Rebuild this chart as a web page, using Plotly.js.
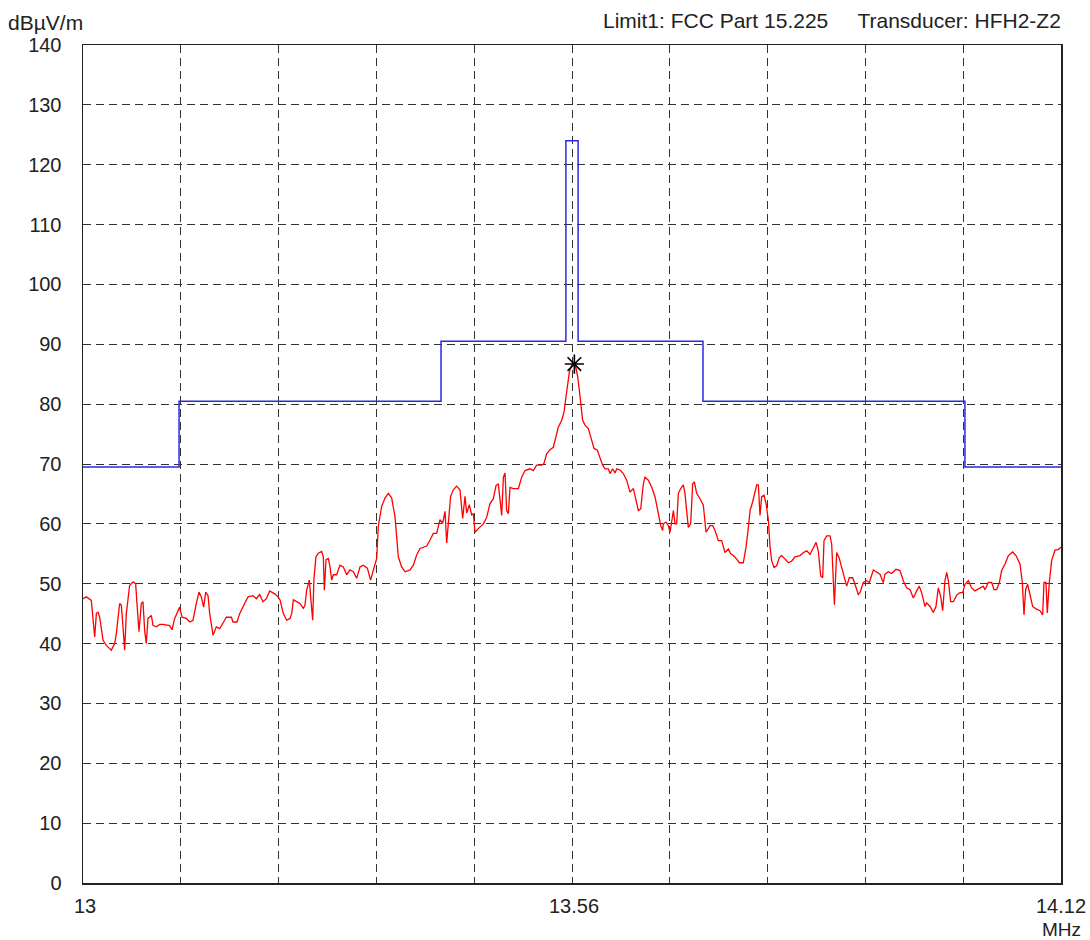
<!DOCTYPE html>
<html>
<head>
<meta charset="utf-8">
<script src="https://cdn.plot.ly/plotly-3.0.1.min.js"></script>
<style>html,body{margin:0;padding:0;background:#fff}#chart{width:1090px;height:940px}</style>
</head>
<body>
<div id="chart"></div>
<script>
// Measured level (red trace)
const freqMHz = [
13.0000,13.0038,13.0095,13.0115,13.0134,13.0153,13.0172,13.0191,13.0210,13.0229,13.0267,13.0324,13.0363,13.0382,13.0420,13.0439,13.0458,13.0477,13.0496,13.0515,13.0534,13.0573,13.0603,13.0618,13.0641,13.0668,13.0687,13.0706,13.0725,13.0744,13.0783,13.0802,13.0840,13.0878,13.0916,13.0993,13.1019,13.1050,13.1107,13.1134,13.1183,13.1222,13.1260,13.1298,13.1328,13.1355,13.1382,13.1405,13.1432,13.1451,13.1489,13.1527,13.1565,13.1622,13.1641,13.1699,13.1718,13.1764,13.1794,13.1851,13.1890,13.1947,13.1985,13.2023,13.2061,13.2100,13.2138,13.2195,13.2233,
13.2256,13.2294,13.2332,13.2370,13.2390,13.2409,13.2447,13.2485,13.2523,13.2542,13.2561,13.2592,13.2607,13.2630,13.2645,13.2668,13.2695,13.2733,13.2752,13.2764,13.2783,13.2810,13.2829,13.2848,13.2867,13.2905,13.2943,13.2981,13.3020,13.3058,13.3096,13.3134,13.3172,13.3210,13.3256,13.3294,13.3325,13.3363,13.3382,13.3420,13.3458,13.3497,13.3535,13.3573,13.3611,13.3649,13.3688,13.3745,13.3783,13.3821,13.3859,13.3897,13.3936,13.3974,13.4012,13.4050,13.4088,13.4119,13.4146,13.4165,13.4184,13.4210,13.4241,13.4279,13.4317,13.4348,13.4375,13.4394,13.4424,13.4451,
13.4470,13.4489,13.4527,13.4585,13.4623,13.4661,13.4699,13.4730,13.4756,13.4776,13.4795,13.4814,13.4833,13.4852,13.4871,13.4890,13.4928,13.4986,13.5024,13.5062,13.5119,13.5157,13.5195,13.5253,13.5279,13.5310,13.5348,13.5386,13.5417,13.5444,13.5482,13.5509,13.5531,13.5551,13.5570,13.5596,13.5623,13.5646,13.5665,13.5684,13.5703,13.5722,13.5749,13.5787,13.5825,13.5852,13.5890,13.5921,13.5951,13.5978,13.6016,13.6035,13.6066,13.6093,13.6112,13.6150,13.6188,13.6226,13.6264,13.6303,13.6341,13.6360,13.6387,13.6417,13.6436,13.6474,13.6513,13.6551,13.6589,13.6616,13.6638,
13.6646,13.6677,13.6703,13.6723,13.6742,13.6761,13.6780,13.6799,13.6818,13.6845,13.6875,13.6894,13.6913,13.6932,13.6959,13.6982,13.7001,13.7028,13.7066,13.7104,13.7135,13.7181,13.7211,13.7238,13.7276,13.7314,13.7352,13.7391,13.7417,13.7448,13.7486,13.7517,13.7562,13.7593,13.7620,13.7639,13.7669,13.7696,13.7715,13.7734,13.7753,13.7772,13.7799,13.7822,13.7849,13.7868,13.7887,13.7914,13.7944,13.7975,13.8001,13.8040,13.8078,13.8116,13.8154,13.8211,13.8250,13.8288,13.8326,13.8364,13.8395,13.8421,13.8448,13.8471,13.8486,13.8517,13.8555,13.8574,13.8593,13.8605,13.8631,13.8658,13.8689,13.8715,13.8746,13.8776,13.8814,13.8841,13.8879,
13.8898,13.8936,13.8974,13.9005,13.9051,13.9089,13.9127,13.9165,13.9184,13.9222,13.9261,13.9310,13.9356,13.9394,13.9432,13.9471,13.9509,13.9547,13.9577,13.9604,13.9642,13.9661,13.9700,13.9738,13.9768,13.9795,13.9822,13.9845,13.9871,13.9891,13.9910,13.9936,13.9967,14.0005,14.0043,14.0074,14.0100,14.0139,14.0177,14.0215,14.0272,14.0310,14.0329,14.0368,14.0406,14.0433,14.0463,14.0494,14.0520,14.0559,14.0597,14.0646,14.0685,14.0730,14.0757,14.0776,14.0795,14.0818,14.0845,14.0875,14.0914,14.0959,14.0990,14.1005,14.1028,14.1043,14.1066,14.1093,14.1131,14.1169,14.1200
];
const levelDb = [
47.5,47.8,47.2,43.3,41.1,45.0,45.3,44.4,42.8,40.6,39.7,38.9,40.0,41.7,46.7,46.4,42.8,38.9,45.0,47.2,49.7,50.3,50.0,46.7,42.0,46.7,47.0,42.2,40.0,44.2,44.7,43.0,42.8,43.2,43.2,43.0,42.3,44.2,46.1,44.4,44.2,43.6,43.9,46.7,48.6,47.8,46.1,48.6,48.0,45.0,41.4,42.8,42.5,43.9,44.4,44.4,43.6,43.6,45.0,46.7,47.8,48.0,47.5,48.2,47.0,47.5,48.8,48.3,47.8,
47.3,45.0,43.9,44.2,45.0,47.3,47.0,46.7,45.9,46.4,48.9,50.6,47.8,43.9,50.9,54.5,55.1,55.4,54.5,48.9,54.0,54.2,52.8,50.6,51.5,51.5,53.1,52.8,51.5,52.3,52.0,50.9,52.8,53.1,52.6,50.6,52.3,54.2,59.6,62.9,64.3,65.1,64.3,61.2,54.5,52.8,52.0,52.3,53.1,54.8,55.9,56.1,56.3,57.3,58.4,58.4,60.7,60.1,62.1,56.8,60.7,64.6,65.7,66.3,65.7,60.9,64.6,61.8,63.2,61.5,
61.7,58.6,59.2,60.0,61.1,63.4,64.2,66.4,66.7,63.9,61.4,67.8,68.5,62.2,61.7,66.1,65.9,65.9,67.8,68.9,69.2,68.9,69.8,69.8,70.1,71.7,72.4,72.8,74.5,76.2,77.3,78.7,81.2,83.5,85.4,86.5,86.8,86.0,84.6,82.3,79.6,77.3,76.5,75.9,74.0,72.6,72.3,70.9,69.8,69.2,69.2,68.4,69.2,68.5,69.2,69.0,68.4,67.3,65.3,65.9,63.4,62.2,62.5,66.7,67.8,67.3,66.1,64.5,61.7,59.7,58.9,
60.0,60.3,59.7,58.6,60.8,62.2,60.0,60.0,65.1,65.9,66.5,65.1,62.2,59.4,60.0,66.7,67.0,65.1,64.2,63.1,58.6,59.7,59.7,58.9,57.2,57.2,55.2,55.8,55.0,54.7,54.1,53.5,53.5,56.1,59.4,62.2,63.7,65.6,66.5,66.5,61.4,64.5,64.8,63.4,60.6,56.1,53.8,52.7,53.0,54.4,54.7,54.1,53.5,53.8,54.5,54.7,55.2,55.5,54.9,56.0,56.9,55.5,51.3,51.0,57.2,58.0,58.0,56.6,49.3,46.5,55.2,54.4,52.7,51.3,49.6,51.0,51.0,49.9,48.2,
48.5,50.2,50.5,50.2,52.3,52.0,51.6,50.2,51.6,52.0,51.7,52.4,52.2,50.5,49.3,49.0,47.6,48.8,49.6,48.5,46.2,46.8,46.2,45.2,46.2,49.3,47.9,45.5,50.5,51.9,50.5,47.0,47.0,48.1,48.5,48.5,49.9,50.5,49.3,48.8,49.3,49.6,49.0,50.2,50.2,49.0,49.0,50.2,52.2,53.3,54.7,55.3,54.7,53.3,50.2,44.8,49.0,49.9,48.2,46.2,45.8,45.5,44.8,50.2,50.2,45.1,50.2,53.9,55.6,55.7,56.1
];
// Limit1: FCC Part 15.225 (step edges)
const limitFreq = [13.000, 13.110, 13.410, 13.553, 13.567, 13.710, 14.010, 14.120];
const limitDb   = [69.5, 80.5, 90.5, 124.0, 90.5, 80.5, 69.5, 69.5];
// Peak marker
const peakFreq = [13.5627];
const peakDb = [86.7];
// Axis ticks
const xGridVals = [13, 13.112, 13.224, 13.336, 13.448, 13.56, 13.672, 13.784, 13.896, 14.008, 14.12];
const xLabelVals = [13, 13.56, 14.12];
const xLabelText = ['13', '13.56', '14.12'];
const yTickVals = [0,10,20,30,40,50,60,70,80,90,100,110,120,130,140];

const FONT = 'Liberation Sans, Arial, sans-serif';
const TXT = '#222';

const traces = [
  {x: limitFreq, y: limitDb, type: 'scatter', mode: 'lines', line: {shape: 'hv', color: '#2a2ae6', width: 1.5}, hoverinfo: 'skip'},
  {x: freqMHz, y: levelDb, type: 'scatter', mode: 'lines', line: {color: '#ff0000', width: 1.3}, hoverinfo: 'skip'},
  {x: peakFreq, y: peakDb, type: 'scatter', mode: 'markers', marker: {symbol: 'asterisk-open', size: 16, color: '#000', line: {color: '#000', width: 1.6}}, hoverinfo: 'skip'}
];

const annotations = xLabelVals.map((v, i) => ({
  x: v, y: 0, xref: 'x', yref: 'y', text: xLabelText[i], showarrow: false,
  xanchor: 'center', yanchor: 'middle', yshift: -23, xshift: i === 2 ? 0 : 2,
  font: {family: FONT, size: 20, color: TXT}
}));
annotations.push({x: 1, y: 0, xref: 'paper', yref: 'paper', text: 'MHz', showarrow: false, xanchor: 'center', yanchor: 'middle', yshift: -46, xshift: 0, font: {family: FONT, size: 19, color: TXT}});
annotations.push({x: 0, y: 1, xref: 'paper', yref: 'paper', text: 'dBµV/m', showarrow: false, xanchor: 'right', yanchor: 'middle', xshift: 2, yshift: 23, font: {family: FONT, size: 21, color: TXT}});
annotations.push({x: 1, y: 1, xref: 'paper', yref: 'paper', text: 'Limit1: FCC Part 15.225&nbsp;&nbsp;&nbsp;&nbsp;&nbsp;Transducer: HFH2-Z2', showarrow: false, xanchor: 'right', yanchor: 'middle', xshift: 2, yshift: 25, font: {family: FONT, size: 21, color: TXT}});

const layout = {
  width: 1090, height: 940,
  margin: {l: 83, r: 29, t: 45, b: 57},
  paper_bgcolor: '#fff', plot_bgcolor: '#fff',
  showlegend: false,
  font: {family: FONT, size: 20, color: TXT},
  xaxis: {
    range: [13, 14.12], tickvals: xGridVals, showticklabels: false, ticks: '',
    showgrid: true, gridcolor: '#333', gridwidth: 1, griddash: '8px,5px',
    showline: true, linecolor: '#222', linewidth: 1.5, mirror: true, zeroline: false
  },
  yaxis: {
    range: [0, 140], tickvals: yTickVals, ticks: '', ticklabelstandoff: 16,
    tickfont: {family: FONT, size: 20, color: TXT},
    showgrid: true, gridcolor: '#333', gridwidth: 1, griddash: '8px,5px',
    showline: true, linecolor: '#222', linewidth: 1.5, mirror: true, zeroline: false
  },
  annotations: annotations
};

Plotly.newPlot('chart', traces, layout, {staticPlot: true, displayModeBar: false});
</script>
</body>
</html>
